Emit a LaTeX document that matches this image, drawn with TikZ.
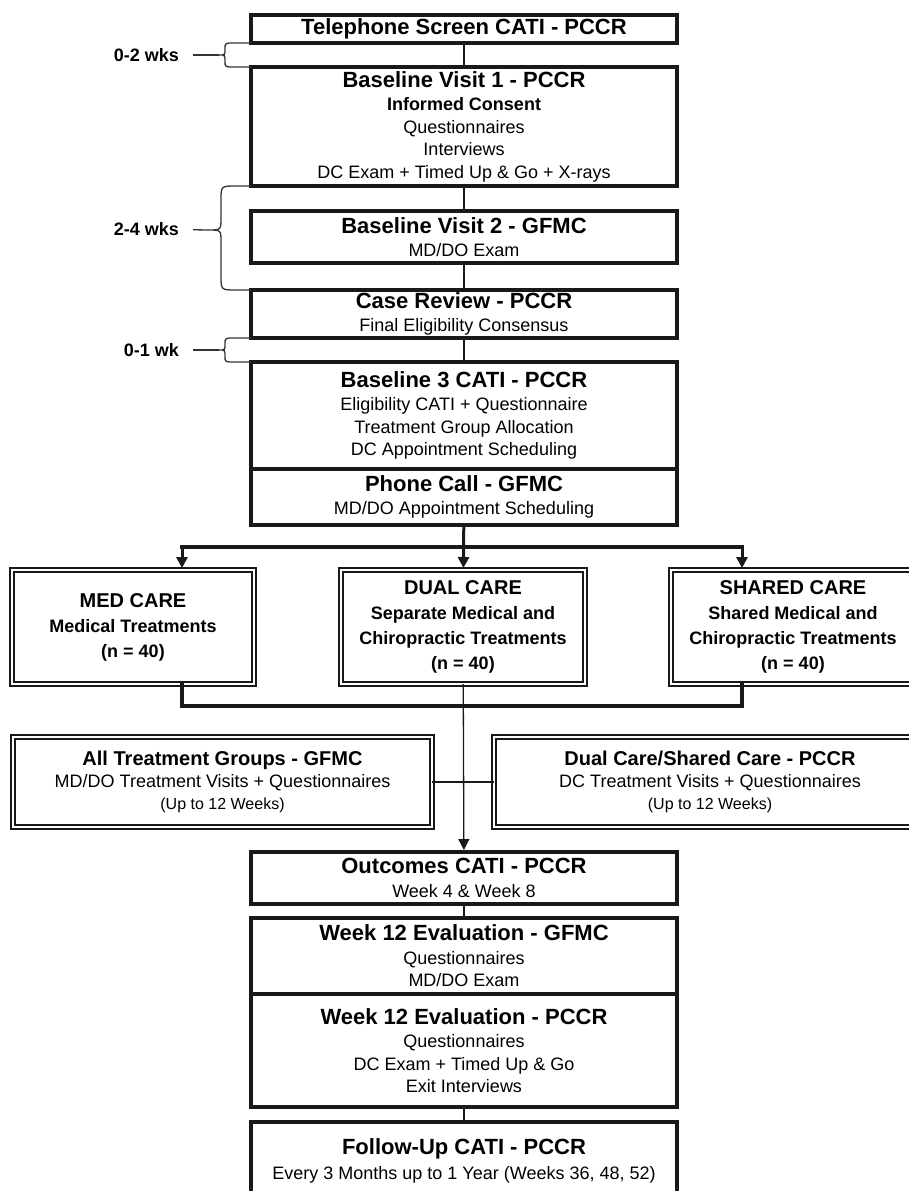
\documentclass[tikz,border=0pt]{standalone}
\usepackage{fontspec}
\setmainfont{Liberation Sans}
\usetikzlibrary{arrows.meta}

\newcommand\boxhead{\fontsize{22}{26}\selectfont\bfseries}
\newcommand\carehead{\fontsize{20}{25}\selectfont\bfseries}
\newcommand\smalltext{\fontsize{16}{20}\selectfont}

\begin{document}
\begin{tikzpicture}[x=1pt,y=-1pt,
	mainbox/.style={draw=black!90,line width=4pt,minimum width=426pt,inner sep=0pt,outer sep=0pt,align=center,font=\fontsize{18}{22.5}\selectfont},
	carebox/.style={draw=black!90,double,line width=1.6pt,double distance=2pt,minimum width=242pt,minimum height=114pt,inner sep=0pt,outer sep=0pt,align=center,font=\fontsize{18}{25}\selectfont\bfseries},
	sidebox/.style={carebox,minimum height=90pt,font=\fontsize{18}{22}\selectfont},
	link/.style={line width=2.5pt,draw=black!90},
	bar/.style={line width=4.5pt,line cap=rect,draw=black!90},
	arr/.style={line width=3pt,draw=black!90,fill=black!90,-{Triangle[length=11pt,width=11pt]},shorten >=2pt},
	thinarr/.style={line width=1.3pt,draw=black!90,fill=black!90,-{Triangle[length=11pt,width=11pt]},shorten >=2pt},
	brc/.style={line width=1.3pt,draw=black!80},
	wklabel/.style={anchor=east,inner sep=0pt,font=\fontsize{18}{22}\selectfont\bfseries}]
	
	\useasboundingbox (0,0) rectangle (909,1191);
	\clip (0,0) rectangle (909,1191);
	
	% screening and baseline visits
	\node[mainbox,minimum height=28pt] (tel) at (464,29) {{\boxhead Telephone Screen CATI - PCCR}};
	\node[mainbox,minimum height=119pt] (bv1) at (464,126.5) {{\boxhead Baseline Visit 1 - PCCR}\\[1pt]\textbf{Informed Consent}\\Questionnaires\\Interviews\\DC Exam + Timed Up \& Go + X-rays};
	\node[mainbox,minimum height=52pt] (bv2) at (464,237) {{\boxhead Baseline Visit 2 - GFMC}\\[1pt]MD/DO Exam};
	\node[mainbox,minimum height=48pt] (review) at (464,314) {{\boxhead Case Review - PCCR}\\[0pt]Final Eligibility Consensus};
	\node[mainbox,minimum height=107pt] (bl3) at (464,415.5) {{\boxhead Baseline 3 CATI - PCCR}\\[1pt]Eligibility CATI + Questionnaire\\Treatment Group Allocation\\DC Appointment Scheduling};
	\node[mainbox,minimum height=56pt] (phone) at (464,497) {{\boxhead Phone Call - GFMC}\\MD/DO Appointment Scheduling};
	
	% treatment groups
	\node[carebox] (med) at (133,627) {{\carehead MED CARE}\\Medical Treatments\\(n = 40)};
	\node[carebox,minimum width=244pt] (dual) at (463,627) {{\carehead DUAL CARE}\\Separate Medical and\\Chiropractic Treatments\\(n = 40)};
	\node[carebox,minimum width=244pt] (shared) at (793,627) {{\carehead SHARED CARE}\\Shared Medical and\\Chiropractic Treatments\\(n = 40)};
	
	\node[sidebox,minimum width=419pt] (allgrp) at (222.5,782) {{\carehead All Treatment Groups - GFMC}\\MD/DO Treatment Visits + Questionnaires\\{\smalltext (Up to 12 Weeks)}};
	\node[sidebox,minimum width=432pt] (dcsc) at (710,782) {{\carehead Dual Care/Shared Care - PCCR}\\DC Treatment Visits + Questionnaires\\{\smalltext (Up to 12 Weeks)}};
	
	% outcomes
	\node[mainbox,minimum height=52pt] (outc) at (464,878) {{\boxhead Outcomes CATI - PCCR}\\[1pt]Week 4 \& Week 8};
	\node[mainbox,minimum height=76pt] (wk12g) at (464,956) {{\boxhead Week 12 Evaluation - GFMC}\\[1pt]Questionnaires\\MD/DO Exam};
	\node[mainbox,minimum height=113pt] (wk12p) at (464,1050.5) {{\boxhead Week 12 Evaluation - PCCR}\\[1pt]Questionnaires\\DC Exam + Timed Up \& Go\\Exit Interviews};
	\node[mainbox,minimum height=78pt] (follow) at (464,1161) {{\boxhead Follow-Up CATI - PCCR}\\[2pt]Every 3 Months up to 1 Year (Weeks 36, 48, 52)};
	
	% time spans
	\node[wklabel] (wk02) at (179,55) {0-2 wks};
	\node[wklabel] (wk24) at (179,229) {2-4 wks};
	\node[wklabel] (wk01) at (179,350) {0-1 wk};
	\coordinate (tip02) at (219,55);
	\coordinate (tip24) at (208,230);
	\coordinate (tip01) at (219,350);
	
	\draw[brc] (tel.south west) -- (234,43) .. controls (225,43) .. (225,49) .. controls (225,55) .. (tip02) .. controls (225,55) .. (225,61) .. controls (225,67) .. (234,67) -- (bv1.north west);
	\draw[brc] (bv1.south west) -- (236,186) .. controls (221,186) .. (221,200) -- (221,218) .. controls (221,230) .. (tip24) .. controls (221,230) .. (221,242) -- (221,276) .. controls (221,290) .. (236,290) -- (review.north west);
	\draw[brc] (review.south west) -- (234,338) .. controls (225,338) .. (225,344) .. controls (225,350) .. (tip01) .. controls (225,350) .. (225,356) .. controls (225,362) .. (234,362) -- (bl3.north west);
	\draw[brc,shorten <=14pt] (wk02) -- (tip02);
	\draw[brc,shorten <=14pt] (wk24) -- (tip24);
	\draw[brc,shorten <=14pt] (wk01) -- (tip01);
	
	% connectors
	\path[link] (tel) edge (bv1);
	\path[link] (bv1) edge (bv2);
	\path[link] (bv2) edge (review);
	\path[link] (review) edge (bl3);
	\path[link] (outc) edge (wk12g);
	\path[link] (wk12p) edge (follow);
	
	\coordinate (splitL) at (182,547);
	\coordinate (splitR) at (742,547);
	\coordinate (joinL) at (182,706);
	\coordinate (joinR) at (742,706);
	
	\draw[bar] (splitL) -- (splitR);
	\draw[arr] (phone) -- (dual);
	\draw[arr] (splitL) -- (splitL |- med.north);
	\draw[arr] (splitR) -- (splitR |- shared.north);
	\draw[bar] (splitL |- med.south) -- (joinL) -- (joinR) -- (splitR |- shared.south);
	\draw[thinarr] (dual) -- (outc);
	\path[link] (allgrp) edge (dcsc);
	
\end{tikzpicture}
\end{document}
